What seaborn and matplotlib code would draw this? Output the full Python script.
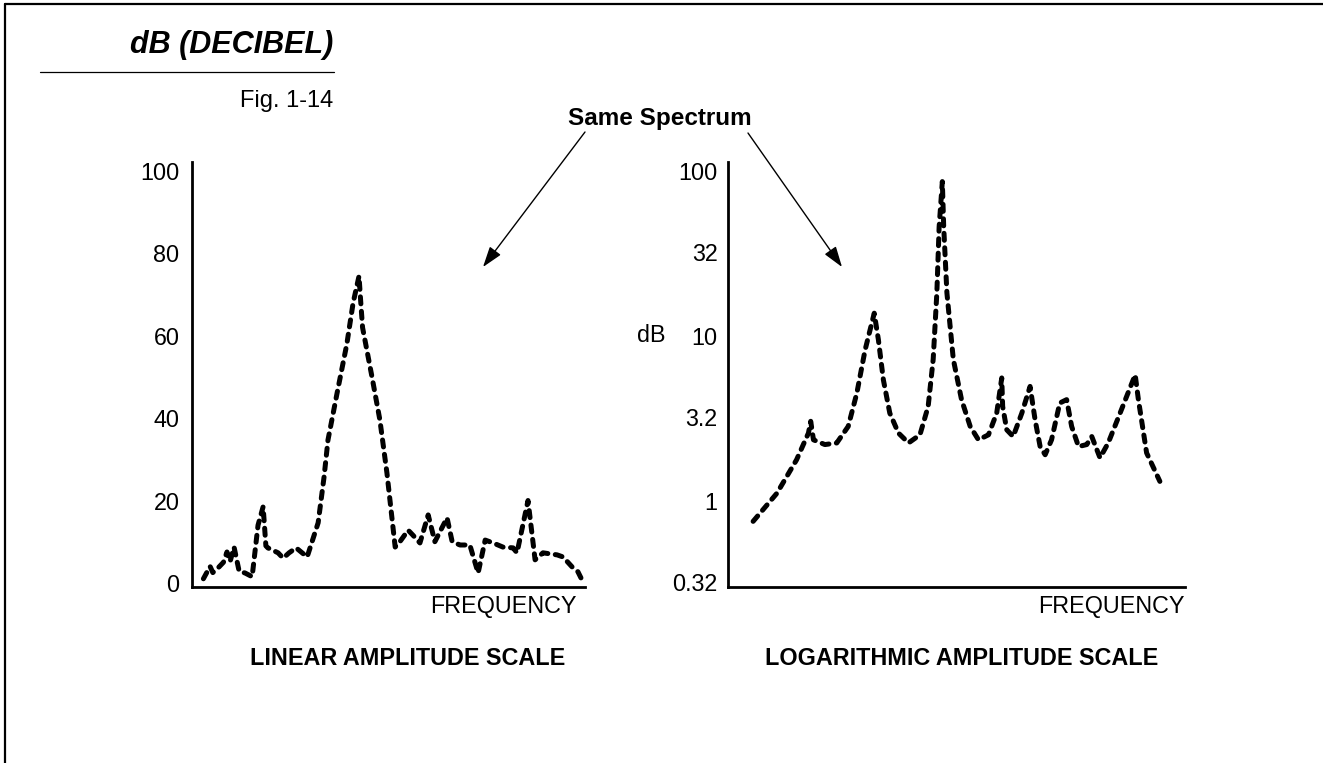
import numpy as np
import pandas as pd
import seaborn as sns
import matplotlib.pyplot as plt
from matplotlib.transforms import blended_transform_factory

# linear amplitude spectrum (frequency in arbitrary units 0-100)
freq_lin = [2.9, 4.6, 5.3, 6.6, 8.0, 8.9, 9.7, 10.7, 12.0, 13.5, 15.3, 16.8, 18.1, 18.8,
            19.3, 21.9, 23.2, 24.7, 26.5, 29.3, 32.1, 33.6, 34.6, 36.9, 39.4, 41.0, 42.5,
            42.9, 43.4, 45.8, 47.8, 49.6, 51.7, 52.9, 55.0, 56.2, 58.0, 60.1, 61.8, 64.9,
            66.2, 68.2, 70.7, 72.8, 74.6, 76.6, 79.1, 81.7, 82.7, 85.5, 87.3, 89.3, 92.9,
            94.4, 96.7, 98.2, 99.5]
amp_lin = [1.0, 4.0, 2.5, 3.6, 5.0, 7.5, 5.2, 8.7, 2.8, 2.4, 1.5, 14.0, 18.5, 9.0,
           8.5, 7.3, 6.0, 7.3, 8.5, 6.3, 14.6, 25.7, 34.7, 46.0, 58.0, 68.0, 74.5,
           68.7, 62.0, 50.0, 39.6, 26.7, 8.7, 10.0, 12.8, 11.6, 9.7, 16.5, 10.0, 15.8,
           10.0, 9.2, 9.2, 2.4, 10.4, 9.7, 8.7, 8.5, 7.3, 20.0, 5.6, 7.3, 6.8,
           6.3, 3.9, 2.7, 0.2]

# same spectrum on a logarithmic amplitude scale
freq_log = [5.5, 10.7, 15.0, 17.6, 18.1, 18.7, 21.2, 23.8, 26.3, 28.2, 30.0, 32.0, 32.9,
            34.0, 35.4, 37.3, 39.5, 42.0, 43.8, 44.9, 45.7, 46.2, 46.9, 47.2, 47.9, 49.3,
            51.1, 53.0, 54.8, 57.0, 58.8, 59.9, 60.1, 61.0, 62.4, 64.3, 66.1, 67.2, 68.3,
            69.4, 70.8, 72.6, 74.1, 75.2, 76.7, 78.5, 79.6, 81.4, 83.2, 85.8, 89.1, 89.8,
            91.6, 94.5]
amp_log = [0.75, 1.11, 1.77, 2.57, 3.03, 2.34, 2.19, 2.24, 2.82, 4.5, 8.2, 13.7, 9.5,
           5.4, 3.4, 2.57, 2.24, 2.51, 3.73, 7.2, 18.2, 45.7, 86.0, 45.7, 18.2, 7.2,
           4.1, 2.82, 2.34, 2.51, 3.4, 5.55, 3.73, 2.69, 2.45, 3.4, 4.93, 3.09, 2.13,
           1.9, 2.34, 3.91, 4.1, 2.82, 2.13, 2.19, 2.45, 1.82, 2.24, 3.4, 5.8, 4.1,
           1.95, 1.31]

lin_ticks = [0, 20, 40, 60, 80, 100]
log_ticks = [0.32, 1, 3.2, 10, 32, 100]
log_labels = ["0.32", "1", "3.2", "10", "32", "100"]

sns.set_style("white")
plt.rcParams['font.family'] = ['Liberation Sans', 'DejaVu Sans']
plt.rcParams['text.color'] = 'black'
plt.rcParams['ytick.color'] = 'black'
plt.rcParams['xtick.color'] = 'black'

W, H = 1323, 763
fx = lambda px: px / W
fy = lambda py: 1 - py / H

fig = plt.figure(figsize=(W / 100, H / 100), dpi=100)
ax1 = fig.add_axes([fx(192), fy(587), 393 / W, 425 / H])
ax2 = fig.add_axes([fx(728), fy(587), 457 / W, 425 / H])

dash = (0, (1.4, 1.5))
df_lin = pd.DataFrame({"freq": freq_lin, "amp": amp_lin})
df_log = pd.DataFrame({"freq": freq_log, "amp": amp_log})
sns.lineplot(data=df_lin, x="freq", y="amp", ax=ax1, color="black", lw=3.6,
             linestyle=dash, dash_capstyle="round", estimator=None, sort=False)
sns.lineplot(data=df_log, x="freq", y="amp", ax=ax2, color="black", lw=3.6,
             linestyle=dash, dash_capstyle="round", estimator=None, sort=False)

ax1.set_xlim(0, 100)
ax1.set_ylim(-1, 102.2)
ax1.set_yticks(lin_ticks)
ax1.set_yticklabels([str(t) for t in lin_ticks])

ax2.set_yscale("log")
ax2.set_xlim(0, 100)
ax2.set_ylim(0.30, 113)
ax2.set_yticks(log_ticks)
ax2.set_yticklabels(log_labels)
ax2.minorticks_off()

for ax, pad in [(ax1, 9), (ax2, 7.5)]:
    ax.set_xticks([])
    ax.set_xlabel("")
    ax.set_ylabel("")
    ax.tick_params(axis="y", length=0, pad=pad, labelsize=16.8, labelcolor="black")
    for s in ["top", "right"]:
        ax.spines[s].set_visible(False)
    for s in ["left", "bottom"]:
        ax.spines[s].set_linewidth(2)
        ax.spines[s].set_color("black")
    ax.patch.set_alpha(0)
    ax.text(1.0, -0.02, "FREQUENCY", transform=ax.transAxes, ha="right", va="top",
            fontsize=16.8)

ax1.texts[0].set_x((577 - 192) / 393)

tr = blended_transform_factory(ax2.transAxes, ax2.transData)
ax2.text((665 - 728) / 457, 10, "dB", transform=tr, ha="right", va="center", fontsize=16.8)

# headings
fig.text(fx(333), fy(53), "dB (DECIBEL)", ha="right", va="baseline", fontsize=22,
         fontweight="bold", fontstyle="italic")
fig.add_artist(plt.Line2D([fx(40), fx(334)], [fy(72), fy(72)], color="black", lw=0.9))
fig.text(fx(333), fy(107), "Fig. 1-14", ha="right", va="baseline", fontsize=17)
fig.text(fx(660), fy(125), "Same Spectrum", ha="center", va="baseline", fontsize=17.5,
         fontweight="bold")
fig.text(fx(408), fy(665), "LINEAR AMPLITUDE SCALE", ha="center", va="baseline",
         fontsize=16.8, fontweight="bold")
fig.text(fx(962), fy(665), "LOGARITHMIC AMPLITUDE SCALE", ha="center", va="baseline",
         fontsize=16.8, fontweight="bold")

arrow = dict(arrowstyle="-|>,head_length=0.9,head_width=0.3", color="black", lw=1,
             shrinkA=0, shrinkB=0, mutation_scale=14)
ax1.annotate("", xy=(fx(483), fy(267)), xytext=(fx(585), fy(132)),
             xycoords="figure fraction", textcoords="figure fraction", arrowprops=arrow)
ax1.annotate("", xy=(fx(842), fy(267)), xytext=(fx(748), fy(133)),
             xycoords="figure fraction", textcoords="figure fraction", arrowprops=arrow)

# page frame (top and left edges)
fig.add_artist(plt.Line2D([fx(5), 1], [fy(4), fy(4)], color="black", lw=1.6))
fig.add_artist(plt.Line2D([fx(5), fx(5)], [fy(4), 0], color="black", lw=1.6))

fig.savefig("out.png", dpi=100)
